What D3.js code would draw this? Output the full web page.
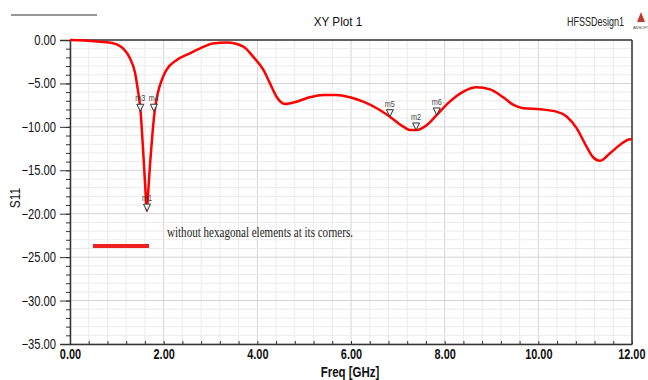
<!DOCTYPE html>
<html>
<head>
<meta charset="utf-8">
<script src="https://cdn.jsdelivr.net/npm/d3@7"></script>
<style>
  body { margin: 0; background: #fff; }
  svg { display: block; }
  .tick-y { font-family: "Liberation Sans", Arial, sans-serif; font-size: 14px; fill: #111; }
  .tick-x { font-family: "Liberation Sans", Arial, sans-serif; font-size: 14px; font-weight: bold; fill: #111; }
</style>
</head>
<body>
<svg id="chart" width="648" height="380"></svg>
<script>
// S11 curve
const freq = [0, 0.3, 0.64, 0.92, 1.13, 1.28, 1.39, 1.45, 1.5, 1.57, 1.61, 1.64, 1.67, 1.71, 1.76, 1.81, 1.88, 1.96, 2.06, 2.28, 2.56, 2.78, 3.05, 3.35, 3.7, 3.91, 4.13, 4.27, 4.41, 4.59, 4.84, 5.12, 5.41, 5.69, 5.98, 6.26, 6.55, 6.83, 7.12, 7.26, 7.4, 7.62, 7.83, 8.11, 8.4, 8.68, 8.97, 9.25, 9.47, 9.68, 10.04, 10.39, 10.61, 10.82, 11.03, 11.17, 11.32, 11.53, 11.74, 11.96, 12]
const s11 = [0, -0.05, -0.2, -0.38, -0.96, -2.1, -3.8, -5.8, -7.8, -13.5, -17.2, -19.7, -17.5, -14.2, -10.8, -8.1, -6.0, -4.6, -3.45, -2.3, -1.53, -0.96, -0.4, -0.3, -0.77, -1.92, -3.45, -4.99, -6.53, -7.37, -7.1, -6.6, -6.33, -6.33, -6.6, -7.1, -7.86, -8.83, -9.98, -10.36, -10.36, -9.79, -8.63, -7.1, -5.95, -5.45, -5.68, -6.6, -7.48, -7.86, -7.98, -8.25, -8.83, -10.17, -12.28, -13.5, -13.9, -13.04, -12.09, -11.43, -11.45]

const markerNames = ['m1', 'm2', 'm3', 'm4', 'm5', 'm6']
const markerFreq = [1.645, 7.39, 1.5, 1.79, 6.83, 7.83]
const markerVal = [-19.7, -10.36, -8.2, -8.2, -8.83, -8.63]

const xTicks = [0, 2, 4, 6, 8, 10, 12]
const yTicks = [0, -5, -10, -15, -20, -25, -30, -35]

const titleText = 'XY Plot 1'
const designText = 'HFSSDesign1'
const legendText = 'without hexagonal elements at its corners.'

const plotLeft = 70, plotRight = 632, plotTop = 40, plotBottom = 344
const narrow = 0.8  // the picture uses a condensed sans

let svg = d3.select('#chart')

// squeeze a text to look like a narrow font
let condense = function (sel, k) {
  sel.each(function () {
    let w = this.getComputedTextLength()
    d3.select(this).attr('textLength', w * k).attr('lengthAdjust', 'spacingAndGlyphs')
  })
}

let xScale = d3.scaleLinear().domain([0, 12]).range([plotLeft, plotRight])
let yScale = d3.scaleLinear().domain([-35, 0]).range([plotBottom, plotTop])

// grid
let grid = svg.append('g').classed('grid', true)
grid.selectAll('.vminor')
  .data(d3.range(0, 12.01, 0.4))
  .enter().append('line')
  .attr('x1', d => xScale(d)).attr('x2', d => xScale(d))
  .attr('y1', plotTop).attr('y2', plotBottom)
  .style('stroke', d => Math.abs(d / 2 - Math.round(d / 2)) < 1e-6 ? '#d4d4d4' : '#ebebeb')
  .style('stroke-width', 1)
grid.selectAll('.hminor')
  .data(d3.range(-35, 0.01, 1))
  .enter().append('line')
  .attr('x1', plotLeft).attr('x2', plotRight)
  .attr('y1', d => yScale(d)).attr('y2', d => yScale(d))
  .style('stroke', d => d % 5 === 0 ? '#d4d4d4' : '#ebebeb')
  .style('stroke-width', 1)

// axes
let yAxis = svg.append('g')
  .attr('transform', `translate(${plotLeft},0)`)
  .call(d3.axisLeft(yScale).tickValues(yTicks).tickSize(10).tickPadding(4).tickFormat(d3.format('.2f')))
yAxis.select('.domain').style('stroke', '#333').style('stroke-width', 1.5)
yAxis.selectAll('.tick line').style('stroke', '#333')
yAxis.selectAll('.tick text').attr('class', 'tick-y').attr('font-family', null).attr('font-size', null)
  .call(condense, narrow)
svg.append('g')
  .attr('transform', `translate(${plotLeft},0)`)
  .call(d3.axisLeft(yScale).tickValues(d3.range(-35, 0.01, 1)).tickSize(4).tickFormat(''))
  .call(g => g.select('.domain').remove())
  .selectAll('.tick line').style('stroke', '#333')

let xAxis = svg.append('g')
  .attr('transform', `translate(0,${plotBottom})`)
  .call(d3.axisBottom(xScale).tickValues(xTicks).tickSize(0).tickPadding(5).tickFormat(d3.format('.2f')))
xAxis.select('.domain').style('stroke', '#333').style('stroke-width', 1.5)
xAxis.selectAll('.tick text').attr('class', 'tick-x').attr('font-family', null).attr('font-size', null)
  .call(condense, 0.78)
// last label ends inside the page
xAxis.selectAll('.tick text').filter(d => d === 12)
  .attr('text-anchor', 'end').attr('x', 13)
svg.append('g')
  .attr('transform', `translate(0,${plotBottom})`)
  .call(d3.axisTop(xScale).tickValues(d3.range(0, 12.01, 0.4)).tickSize(3).tickFormat(''))
  .call(g => g.select('.domain').remove())
  .selectAll('.tick line').style('stroke', '#333')

// frame top / right
svg.append('line').attr('x1', plotLeft).attr('x2', plotRight).attr('y1', plotTop).attr('y2', plotTop)
  .style('stroke', '#333').style('stroke-width', 1.5)
svg.append('line').attr('x1', plotRight).attr('x2', plotRight).attr('y1', plotTop).attr('y2', plotBottom)
  .style('stroke', '#333').style('stroke-width', 1.5)

// curve
let line = d3.line()
  .x((d, i) => xScale(freq[i]))
  .y(d => yScale(d))
  .curve(d3.curveMonotoneX)
svg.append('path')
  .attr('d', line(s11))
  .style('fill', 'none')
  .style('stroke', '#ff0000')
  .style('stroke-width', 2.5)

// markers
let markers = svg.append('g').selectAll('g')
  .data(markerNames)
  .enter().append('g')
  .attr('transform', (d, i) => `translate(${xScale(markerFreq[i])},${yScale(markerVal[i])})`)
markers.append('path')
  .attr('d', 'M0,0 L-3.5,-7 L3.5,-7 Z')
  .style('fill', '#f4f4f4')
  .style('stroke', '#333')
  .style('stroke-width', 1)
markers.append('text')
  .attr('y', -10)
  .attr('text-anchor', 'middle')
  .style('font-family', '"Liberation Sans", sans-serif')
  .style('font-size', '9px')
  .style('fill', '#444')
  .text(d => d)
  .call(condense, 0.8)

// titles
svg.append('text').attr('x', 338).attr('y', 26).attr('text-anchor', 'middle')
  .style('font-family', '"Liberation Sans", sans-serif').style('font-size', '13px').style('fill', '#111')
  .text(titleText)
  .call(condense, 0.9)
svg.append('text').attr('x', 624).attr('y', 26).attr('text-anchor', 'end')
  .style('font-family', '"Liberation Sans", sans-serif').style('font-size', '12px').style('fill', '#222')
  .text(designText)
  .call(condense, 0.75)
// small logo
svg.append('path').attr('d', 'M641,12 L637,22 L645,22 Z').style('fill', '#c0392b')
svg.append('text').attr('x', 641).attr('y', 29).attr('text-anchor', 'middle')
  .style('font-family', '"Liberation Sans", sans-serif').style('font-size', '4px').style('fill', '#444')
  .text('ANSOFT')
svg.append('line').attr('x1', 11).attr('x2', 97).attr('y1', 15).attr('y2', 15)
  .style('stroke', '#333').style('stroke-width', 1)

svg.append('text')
  .attr('transform', `translate(20,198) rotate(-90)`)
  .attr('text-anchor', 'middle')
  .style('font-family', '"Liberation Sans", sans-serif').style('font-size', '14px').style('fill', '#111')
  .text('S11')
  .call(condense, 0.85)
svg.append('text').attr('x', 350).attr('y', 377).attr('text-anchor', 'middle')
  .style('font-family', '"Liberation Sans", sans-serif').style('font-size', '14px').style('font-weight', 'bold').style('fill', '#111')
  .text('Freq [GHz]')
  .call(condense, 0.82)

// legend
svg.append('line').attr('x1', 93).attr('x2', 149).attr('y1', 246).attr('y2', 246)
  .style('stroke', '#ee2222').style('stroke-width', 4)
svg.append('text').attr('x', 167).attr('y', 237)
  .attr('textLength', 186).attr('lengthAdjust', 'spacingAndGlyphs')
  .style('font-family', '"Liberation Serif", "Times New Roman", serif').style('font-size', '14px').style('fill', '#222')
  .text(legendText)
</script>
</body>
</html>
